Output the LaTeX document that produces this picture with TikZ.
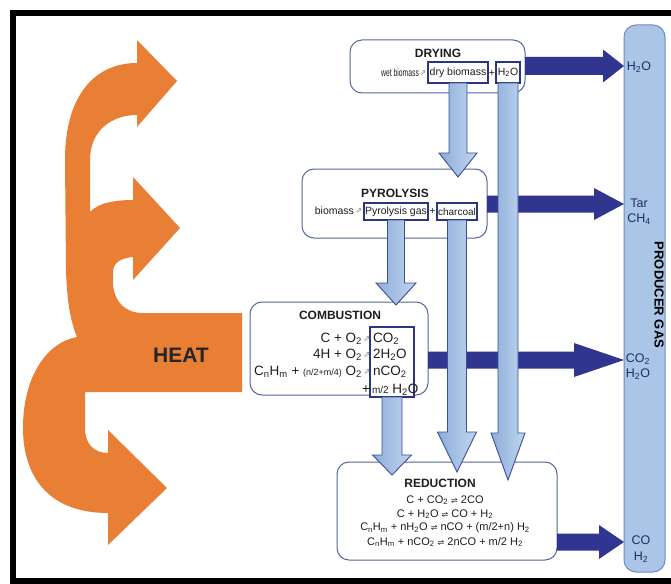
\documentclass[tikz,border=0pt]{standalone}
\usepackage{fontspec}
\setmainfont{Liberation Sans}
\newfontfamily\dv{DejaVu Sans}
\usetikzlibrary{calc}
\definecolor{heatorange}{HTML}{E97F35}
\definecolor{darkarrow}{HTML}{30358F}
\definecolor{lightA}{HTML}{8DADD8}
\definecolor{lightB}{HTML}{C0D6F0}
\definecolor{arrowline}{HTML}{3A4E92}
\definecolor{colfill}{HTML}{AAC5E6}
\definecolor{colline}{HTML}{6C8BC0}
\definecolor{boxline}{HTML}{56679A}
\definecolor{iboxline}{HTML}{2C3580}
\definecolor{txt}{HTML}{1E1E1E}
\newcommand\lo[1]{\textsubscript{#1}}
\newcommand\rarw{{\dv\color{gray}\fontsize{8}{8}\selectfont ⇗}}
\newcommand\eqarw{{\dv\fontsize{8}{8}\selectfont ⇌}}
% vertical block arrow: style, from, tip, half shaft, half head, head length
\newcommand\vblock[6]{\path[#1] let \p1=(#2), \p2=(#3) in
  (\x2-#4pt,\y1) -- (\x2+#4pt,\y1) -- (\x2+#4pt,\y2+#6pt) -- (\x2+#5pt,\y2+#6pt) --
  (\x2,\y2) -- (\x2-#5pt,\y2+#6pt) -- (\x2-#4pt,\y2+#6pt) -- cycle;}
% horizontal block arrow: style, from, tip, half shaft, half head, head length
\newcommand\hblock[6]{\path[#1] let \p1=(#2), \p2=(#3) in
  (\x1,\y2+#4pt) -- (\x2-#6pt,\y2+#4pt) -- (\x2-#6pt,\y2+#5pt) -- (\x2,\y2) --
  (\x2-#6pt,\y2-#5pt) -- (\x2-#6pt,\y2-#4pt) -- (\x1,\y2-#4pt) -- cycle;}
\begin{document}
\begin{tikzpicture}[x=1pt,y=-1pt,
  every node/.style={inner sep=0pt,outer sep=0pt,text=txt},
  stagebox/.style={draw=boxline,line width=1pt,fill=white,rounded corners=12pt},
  ibox/.style={draw=iboxline,line width=1.3pt,fill=white,font=\fontsize{10.5}{11}\selectfont},
  colbox/.style={draw=colline,line width=1pt,fill=colfill,rounded corners=12pt},
  title/.style={font=\bfseries\fontsize{12}{12}\selectfont},
  ftxt/.style={font=\fontsize{10.5}{11}\selectfont},
  ctxt/.style={font=\fontsize{13.5}{14}\selectfont},
  rtxt/.style={font=\fontsize{11}{11}\selectfont},
  gtxt/.style={font=\fontsize{12.5}{13}\selectfont,text=iboxline!80!black},
  lightarrow/.style={left color=lightA,right color=lightB,draw=arrowline,line width=0.9pt},
  darkblock/.style={fill=darkarrow},
  heatshape/.style={fill=heatorange}]
\useasboundingbox (0,0) rectangle (671,583);
\fill[white] (0,0) rectangle (671,583);
\begin{scope}
  \clip (0,0) rectangle (671,583);
  \draw[line width=6pt] (13,13.5) rectangle (700,580.5);
\end{scope}

% HEAT arrows
\path[heatshape] (137,40) -- (177,81) -- (137,127) -- (137,115)
  .. controls (110,115) and (90,132) .. (90,160) -- (90,212)
  .. controls (98,203) and (115,200) .. (133,200)
  -- (133,177) -- (180,228) -- (133,280) -- (133,257)
  .. controls (122,258) and (113,262) .. (113,272) -- (113,285)
  .. controls (115,303) and (126,313) .. (143,313)
  -- (242,313) -- (242,392) -- (85,392) -- (85,428)
  .. controls (85,445) and (95,453) .. (108,453)
  -- (108,430) -- (167,488) -- (108,545) -- (108,513)
  .. controls (50,513) and (23,478) .. (23,428)
  .. controls (23,375) and (48,342) .. (77,337)
  .. controls (70,320) and (67,300) .. (66,270)
  -- (65,160) .. controls (65,95) and (95,63) .. (137,63) -- cycle;
\node[font=\bfseries\fontsize{21}{21}\selectfont,text=black!85] (heat) at (181,355) {HEAT};

% producer gas column
\node[colbox,minimum width=41pt,minimum height=547pt] (col) at (644.5,298.5) {};

% stage boxes
\node[stagebox,minimum width=175pt,minimum height=53pt] (dryg) at (437.5,66.5) {};
\node[stagebox,minimum width=185pt,minimum height=69pt] (pyro) at (394.5,203.5) {};
\node[stagebox,minimum width=178pt,minimum height=93pt] (comb) at (339,348.5) {};
\node[stagebox,minimum width=220pt,minimum height=98pt] (red) at (447,511) {};

% dark arrows to producer gas
\path (col.west |- dryg.east) ++(0,-0.5) coordinate (e1);
\path (col.west |- pyro.east) ++(0,0.5) coordinate (e2);
\path (col.west |- comb.east) ++(0,11.5) coordinate (e3);
\path (col.west |- red.east) ++(0,31) coordinate (e4);
\hblock{darkblock}{dryg.east}{e1}{9}{16.5}{21}
\hblock{darkblock}{pyro.east}{e2}{8.5}{16}{30}
\hblock{darkblock}{comb.east}{e3}{8.5}{17}{50}
\hblock{darkblock}{red.east}{e4}{8.5}{17}{25}

% inner boxes
\node[ibox,minimum width=60pt,minimum height=21pt] (drybox) at (458,72.5) {dry biomass};
\node[ibox,minimum width=24pt,minimum height=21pt] (h2obox) at (508,72.5) {H\lo{2}O};
\node[ibox,minimum width=64pt,minimum height=17pt] (pgbox) at (396,211.5) {Pyrolysis gas};
\node[ibox,minimum width=40pt,minimum height=17pt,font=\fontsize{10}{10}\selectfont] (chbox) at (457,211.5) {charcoal};
\node[ibox,minimum width=44pt,minimum height=70pt] (prodbox) at (392,362) {};

% light blue arrows
\path (pyro.north -| drybox.south) ++(0,8) coordinate (t1);
\path (red.north -| h2obox.south) ++(0,18) coordinate (t2);
\path (red.north -| chbox.south) ++(0,10) coordinate (t3);
\path (comb.north -| pgbox.south) ++(0,3) coordinate (t4);
\path (red.north -| prodbox.south) ++(0,13) coordinate (t5);
\vblock{lightarrow}{drybox.south}{t1}{9}{19}{24}
\vblock{lightarrow}{h2obox.south}{t2}{10}{17}{47}
\vblock{lightarrow}{chbox.south}{t3}{9.5}{19.5}{40}
\vblock{lightarrow}{pgbox.south}{t4}{8.5}{20}{22}
\vblock{lightarrow}{prodbox.south}{t5}{10}{19.5}{20}

% titles
\node[title] (tdry) at (438,53) {DRYING};
\node[title] (tpyro) at (395,193) {PYROLYSIS};
\node[title] (tcomb) at (340,315) {COMBUSTION};
\node[title] (tred) at (440,483) {REDUCTION};

% drying formula
\node[ftxt,anchor=east] (wet) at (419,73) {\scalebox{0.65}[1]{wet biomass}};
\node (ar1) at (423,73) {\rarw};
\node[ftxt] (pl1) at (492,73) {+};

% pyrolysis formula
\node[ftxt,anchor=east] (bio) at (354,211) {biomass};
\node (ar2) at (359,211) {\rarw};
\node[ftxt] (pl2) at (432.5,211) {+};

% combustion formulas
\node[ctxt,anchor=east] (c1l) at (362,339) {C + O\lo{2}};
\node (c1a) at (367,339) {\rarw};
\node[ctxt,anchor=west] (c1r) at (373,339) {CO\lo{2}};
\node[ctxt,anchor=east] (c2l) at (362,355) {4H + O\lo{2}};
\node (c2a) at (367,355) {\rarw};
\node[ctxt,anchor=west] (c2r) at (373,355) {2H\lo{2}O};
\node[ctxt,anchor=east] (c3l) at (362,372) {C\lo{n}H\lo{m} + {\fontsize{9}{9}\selectfont (n/2+m/4)} O\lo{2}};
\node (c3a) at (367,372) {\rarw};
\node[ctxt,anchor=west] (c3r) at (373,372) {nCO\lo{2}};
\node[ctxt] (c4p) at (366,390) {+};
\node[ctxt,anchor=west] (c4r) at (372,390) {{\fontsize{10}{10}\selectfont m/2} H\lo{2}O};

% reduction formulas
\node[rtxt] (r1) at (445,500) {C + CO\lo{2} \eqarw{} 2CO};
\node[rtxt] (r2) at (445,514) {C + H\lo{2}O \eqarw{} CO + H\lo{2}};
\node[rtxt] (r3) at (445,528) {C\lo{n}H\lo{m} + nH\lo{2}O \eqarw{} nCO + (m/2+n) H\lo{2}};
\node[rtxt] (r4) at (445,542) {C\lo{n}H\lo{m} + nCO\lo{2} \eqarw{} 2nCO + m/2 H\lo{2}};

% producer gas labels
\node[gtxt] (g1) at (639,67) {H\lo{2}O};
\node[gtxt] (g2) at (639,203) {Tar};
\node[gtxt] (g3) at (639,219) {CH\lo{4}};
\node[gtxt] (g4) at (638,359) {CO\lo{2}};
\node[gtxt] (g5) at (638,374) {H\lo{2}O};
\node[gtxt] (g6) at (641,540) {CO};
\node[gtxt] (g7) at (641,557) {H\lo{2}};
\node[font=\bfseries\fontsize{13}{13}\selectfont,rotate=-90,text=black] (pg) at (659,295) {PRODUCER GAS};
\end{tikzpicture}
\end{document}
